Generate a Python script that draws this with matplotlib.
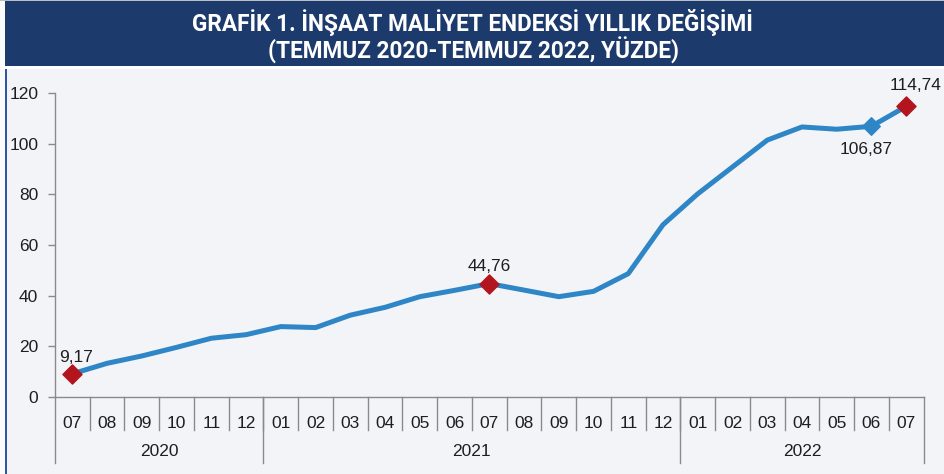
"""
Yearly change in the construction cost index, Jul 2020 - Jul 2022.
Saves out.png (945x474).
"""

import matplotlib
matplotlib.use("Agg")
import matplotlib.pyplot as plt
import matplotlib.patches as mpatches
from matplotlib.lines import Line2D

# Data
months = ["07", "08", "09", "10", "11", "12",
          "01", "02", "03", "04", "05", "06", "07", "08", "09", "10", "11", "12",
          "01", "02", "03", "04", "05", "06", "07"]
years = ["2020", "2021", "2022"]
year_counts = [6, 12, 7]
values = [9.17, 13.3, 16.2, 19.6, 23.2, 24.6,
          27.8, 27.4, 32.3, 35.4, 39.6, 42.1, 44.76, 42.2, 39.6, 41.7, 48.7, 68.0,
          80.2, 90.8, 101.4, 106.6, 105.7, 106.87, 114.74]
red_idx = [0, 12, 24]
blue_idx = [23]
labels = {0: "9,17", 12: "44,76", 23: "106,87", 24: "114,74"}

TITLE_1 = "GRAFİK 1. İNŞAAT MALİYET ENDEKSİ YILLIK DEĞİŞİMİ"
TITLE_2 = "(TEMMUZ 2020-TEMMUZ 2022, YÜZDE)"

W, H = 945, 474
NAVY = "#1c3a6b"
BG = "#f2f4f8"
LINE_BLUE = "#2e86c6"
RED = "#b3151f"
GRAY = "#8a8a8a"
TXT = "#1e1e1e"
FS = 12.5

plt.rcParams["font.family"] = ["Liberation Sans", "DejaVu Sans"]

fig = plt.figure(figsize=(W / 100, H / 100), dpi=100, facecolor=BG)


def px_rect(x0, y0, x1, y1, color):
    # rectangle given in image pixel coords (origin top-left)
    fig.patches.append(mpatches.Rectangle(
        (x0 / W, 1 - y1 / H), (x1 - x0) / W, (y1 - y0) / H,
        transform=fig.transFigure, facecolor=color, edgecolor="none", zorder=0))


# white margin on the left, navy title band, white gap line, left border
px_rect(0, 0, 5, H, "#fbfbfc")
px_rect(0, 0, W, 1, "#b9bec8")
px_rect(5, 1, W, 66, NAVY)
px_rect(5, 66, W, 69, "#ffffff")
px_rect(5, 69, 7, H, "#2f56a0")

title_font = dict(color="white", fontweight="bold", ha="center", va="center",
                  family=["Roboto", "DejaVu Sans"], fontsize=16.3)
fig.text(472 / W, 1 - 22 / H, TITLE_1, **title_font)
fig.text(474 / W, 1 - 50 / H, TITLE_2, **title_font)

# plot area
ax = fig.add_axes([55 / W, 1 - 397 / H, 868.6 / W, 304 / H])
ax.set_facecolor("none")
x = list(range(len(values)))
ax.plot(x, values, color=LINE_BLUE, lw=3.6, solid_joinstyle="round", zorder=3)
ax.scatter([x[i] for i in red_idx], [values[i] for i in red_idx], marker="D",
           s=95, color=RED, zorder=4, clip_on=False)
ax.scatter([x[i] for i in blue_idx], [values[i] for i in blue_idx], marker="D",
           s=80, color=LINE_BLUE, zorder=4, clip_on=False)

offsets = {0: (3, 12), 12: (0, 12), 23: (-3.6, -17), 24: (6.5, 15)}
for i, txt in labels.items():
    ax.annotate(txt, (x[i], values[i]), xytext=offsets[i], textcoords="offset points",
                ha="center", va="center", fontsize=FS, color=TXT,
                annotation_clip=False)

ax.set_xlim(-0.5, len(values) - 0.5)
ax.set_ylim(0, 120)
ax.set_yticks(range(0, 121, 20))
ax.tick_params(axis="y", length=5, width=1, color=GRAY, labelsize=FS,
               labelcolor=TXT, pad=7)
ax.set_xticks(x)
ax.set_xticklabels(months)
ax.tick_params(axis="x", length=0, labelsize=FS, labelcolor=TXT, pad=14)
for side in ("top", "right"):
    ax.spines[side].set_visible(False)
for side in ("left", "bottom"):
    ax.spines[side].set_color(GRAY)
    ax.spines[side].set_linewidth(1)

# category separators below the axis
trans = ax.get_xaxis_transform()
for k in range(1, len(values)):
    ax.add_line(Line2D([k - 0.5, k - 0.5], [0, -0.108], transform=trans,
                       color=GRAY, lw=1, clip_on=False))
start = 0
for yr, n in zip(years, year_counts):
    ax.add_line(Line2D([start - 0.5, start - 0.5], [0, -0.217], transform=trans,
                       color=GRAY, lw=1, clip_on=False))
    ax.text(start + (n - 1) / 2, -0.178, yr, transform=trans, ha="center",
            va="center", fontsize=FS, color=TXT)
    start += n
ax.add_line(Line2D([start - 0.5, start - 0.5], [0, -0.217], transform=trans,
                   color=GRAY, lw=1, clip_on=False))

fig.savefig("out.png", dpi=100, facecolor=fig.get_facecolor())
